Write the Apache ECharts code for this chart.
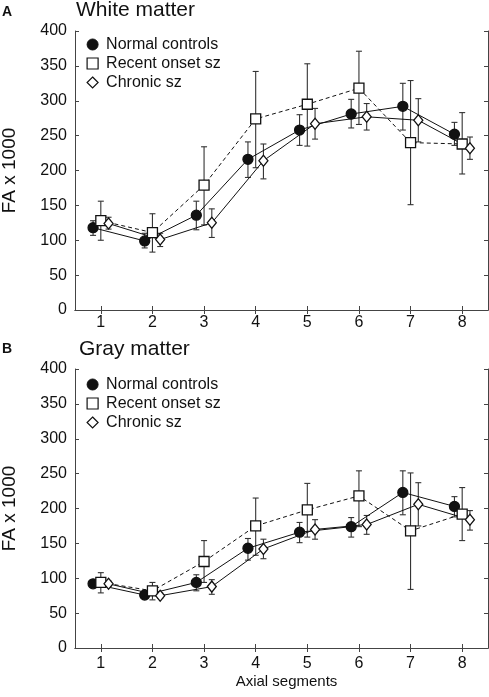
<!DOCTYPE html>
<html>
<head>
<meta charset="utf-8">
<script src="https://cdn.jsdelivr.net/npm/echarts@6/dist/echarts.min.js"></script>
<style>
html,body{margin:0;padding:0;background:#fff;}
#chart{width:489px;height:697px;}
</style>
</head>
<body>
<div id="chart"></div>
<script>
// ---- Data ----
const segments = [1, 2, 3, 4, 5, 6, 7, 8];
const xTickLabels = ['1', '2', '3', '4', '5', '6', '7', '8'];
const groupNames = ['Normal controls', 'Recent onset sz', 'Chronic sz'];

// White matter (FA x 1000)
const wmNormal      = [118, 99, 136, 216, 258, 281, 292, 252];
const wmNormalLow   = [107, 89, 115, 190, 236, 261, 258, 236];
const wmNormalHigh  = [128, 110, 156, 241, 280, 302, 325, 269];
const wmRecent      = [128, 111, 179, 274, 295, 318, 240, 238];
const wmRecentLow   = [100, 83, 122, 204, 235, 266, 151, 195];
const wmRecentHigh  = [156, 138, 234, 342, 353, 371, 329, 283];
const wmChronic     = [124, 101, 125, 214, 267, 277, 272, 232];
const wmChronicLow  = [116, 91, 104, 188, 245, 258, 241, 216];
const wmChronicHigh = [133, 110, 145, 238, 289, 296, 303, 248];

// Gray matter (FA x 1000)
const gmNormal      = [92, 76, 94, 143, 166, 174, 223, 203];
const gmNormalLow   = [87, 72, 82, 126, 151, 159, 191, 188];
const gmNormalHigh  = [97, 81, 105, 157, 180, 187, 254, 217];
const gmRecent      = [94, 82, 124, 175, 198, 218, 168, 192];
const gmRecentLow   = [79, 69, 94, 133, 159, 174, 84, 154];
const gmRecentHigh  = [108, 94, 154, 215, 236, 254, 251, 230];
const gmChronic     = [92, 75, 88, 142, 170, 177, 206, 184];
const gmChronicLow  = [88, 71, 77, 128, 156, 163, 175, 169];
const gmChronicHigh = [96, 79, 98, 156, 184, 190, 237, 197];

// ---- Styles ----
const FONT = 'Liberation Sans, Arial, sans-serif';
const AXIS_COLOR = '#444';
const groupOffsets = [-0.15, 0, 0.15];
const symbols = ['circle', 'rect', 'diamond'];
const symbolSizes = [10, 10, [9, 11]];
const fills = ['#111', '#fff', '#fff'];
const lineTypes = ['solid', [4, 3], 'solid'];

const grids = [
  { left: 75, right: 1, top: 31, height: 279, outerBoundsMode: 'none', containLabel: false },
  { left: 75, right: 1, top: 369, height: 279, outerBoundsMode: 'none', containLabel: false }
];

function xAxes(gi, showName) {
  return [
    {
      type: 'value', gridIndex: gi, min: 0.5, max: 8.5, position: 'bottom',
      axisLine: { show: true, lineStyle: { color: AXIS_COLOR, width: 1 } },
      axisTick: { show: true, inside: true, length: 4, customValues: segments, lineStyle: { color: AXIS_COLOR } },
      axisLabel: { show: true, customValues: segments, formatter: v => xTickLabels[segments.indexOf(v)],
        fontSize: 16, color: '#111', fontFamily: FONT, margin: gi === 0 ? 5 : 8 },
      splitLine: { show: false },
      name: showName ? 'Axial segments' : '',
      nameLocation: 'middle', nameGap: 26,
      nameTextStyle: { fontSize: 15, color: '#111', fontFamily: FONT, padding: [0, 0, 0, 10] }
    },
    {
      type: 'value', gridIndex: gi, min: 0.5, max: 8.5, position: 'top',
      axisLine: { show: true, lineStyle: { color: AXIS_COLOR, width: 1 } },
      axisTick: { show: true, inside: true, length: 4, customValues: segments, lineStyle: { color: AXIS_COLOR } },
      axisLabel: { show: false }, splitLine: { show: false }
    }
  ];
}
function yAxes(gi) {
  return [
    {
      type: 'value', gridIndex: gi, min: 0, max: 400, interval: 50, position: 'left',
      axisLine: { show: true, lineStyle: { color: AXIS_COLOR, width: 1 } },
      axisTick: { show: true, inside: true, length: 4, lineStyle: { color: AXIS_COLOR } },
      axisLabel: { fontSize: 16, color: '#111', fontFamily: FONT, margin: 8 },
      splitLine: { show: false },
      name: 'FA x 1000', nameLocation: 'middle', nameGap: 56, nameRotate: 90,
      nameTextStyle: { fontSize: 19, color: '#111', fontFamily: FONT }
    },
    {
      type: 'value', gridIndex: gi, min: 0, max: 400, interval: 50, position: 'right',
      axisLine: { show: true, lineStyle: { color: AXIS_COLOR, width: 1 } },
      axisTick: { show: true, inside: true, length: 4, lineStyle: { color: AXIS_COLOR } },
      axisLabel: { show: false }, splitLine: { show: false }
    }
  ];
}

const panels = [
  { means: [wmNormal, wmRecent, wmChronic], lows: [wmNormalLow, wmRecentLow, wmChronicLow], highs: [wmNormalHigh, wmRecentHigh, wmChronicHigh] },
  { means: [gmNormal, gmRecent, gmChronic], lows: [gmNormalLow, gmRecentLow, gmChronicLow], highs: [gmNormalHigh, gmRecentHigh, gmChronicHigh] }
];

const series = [];
panels.forEach((p, gi) => {
  for (let g = 0; g < 3; g++) {
    series.push({
      type: 'custom', xAxisIndex: gi * 2, yAxisIndex: gi * 2, z: 1, silent: true,
      data: segments.map((s, i) => [s + groupOffsets[g], p.lows[g][i], p.highs[g][i]]),
      encode: { x: 0, y: [1, 2] },
      renderItem: function (params, api) {
        const x = api.value(0);
        const top = api.coord([x, api.value(2)]);
        const bot = api.coord([x, api.value(1)]);
        const cw = 3;
        const st = { stroke: '#333', lineWidth: 1.1 };
        return {
          type: 'group',
          children: [
            { type: 'line', shape: { x1: top[0], y1: top[1], x2: bot[0], y2: bot[1] }, style: st },
            { type: 'line', shape: { x1: top[0] - cw, y1: top[1], x2: top[0] + cw, y2: top[1] }, style: st },
            { type: 'line', shape: { x1: bot[0] - cw, y1: bot[1], x2: bot[0] + cw, y2: bot[1] }, style: st }
          ]
        };
      }
    });
  }
  for (let g = 0; g < 3; g++) {
    series.push({
      name: groupNames[g], type: 'line', xAxisIndex: gi * 2, yAxisIndex: gi * 2, z: 3,
      data: segments.map((s, i) => [s + groupOffsets[g], p.means[g][i]]),
      symbol: symbols[g], symbolSize: symbolSizes[g], showAllSymbol: true,
      lineStyle: { color: '#111', width: 1, type: lineTypes[g] },
      itemStyle: { color: fills[g], borderColor: '#111', borderWidth: 1.3, opacity: 1 },
      emphasis: { disabled: true }, animation: false
    });
  }
});

function legend(top) {
  return {
    orient: 'vertical', left: 86.5, top: top, padding: 0, itemGap: 3, itemWidth: 11, itemHeight: 11,
    selectedMode: false,
    textStyle: { fontSize: 16, color: '#111', fontFamily: FONT, padding: [0, 0, 0, 3] },
    data: [
      { name: groupNames[0], icon: 'circle', itemStyle: { color: '#111', borderColor: '#111', borderWidth: 1 } },
      { name: groupNames[1], icon: 'rect', itemStyle: { color: '#fff', borderColor: '#111', borderWidth: 1.2 } },
      { name: groupNames[2], icon: 'diamond', itemStyle: { color: '#fff', borderColor: '#111', borderWidth: 1.2 } }
    ]
  };
}

const option = {
  animation: false,
  backgroundColor: '#fff',
  grid: grids,
  xAxis: [...xAxes(0, false), ...xAxes(1, true)],
  yAxis: [...yAxes(0), ...yAxes(1)],
  legend: [legend(36.5), legend(376.5)],
  graphic: [
    { type: 'text', left: 2, top: 5, style: { text: 'A', fontSize: 14, fontWeight: 'bold', fontFamily: FONT, fill: '#111' } },
    { type: 'text', left: 76, top: 0, style: { text: 'White matter', fontSize: 21, fontFamily: FONT, fill: '#111' } },
    { type: 'text', left: 2, top: 342, style: { text: 'B', fontSize: 14, fontWeight: 'bold', fontFamily: FONT, fill: '#111' } },
    { type: 'text', left: 79, top: 339, style: { text: 'Gray matter', fontSize: 21, fontFamily: FONT, fill: '#111' } }
  ],
  series: series
};

const chart = echarts.init(document.getElementById('chart'), null, { renderer: 'canvas' });
chart.setOption(option);
</script>
</body>
</html>
